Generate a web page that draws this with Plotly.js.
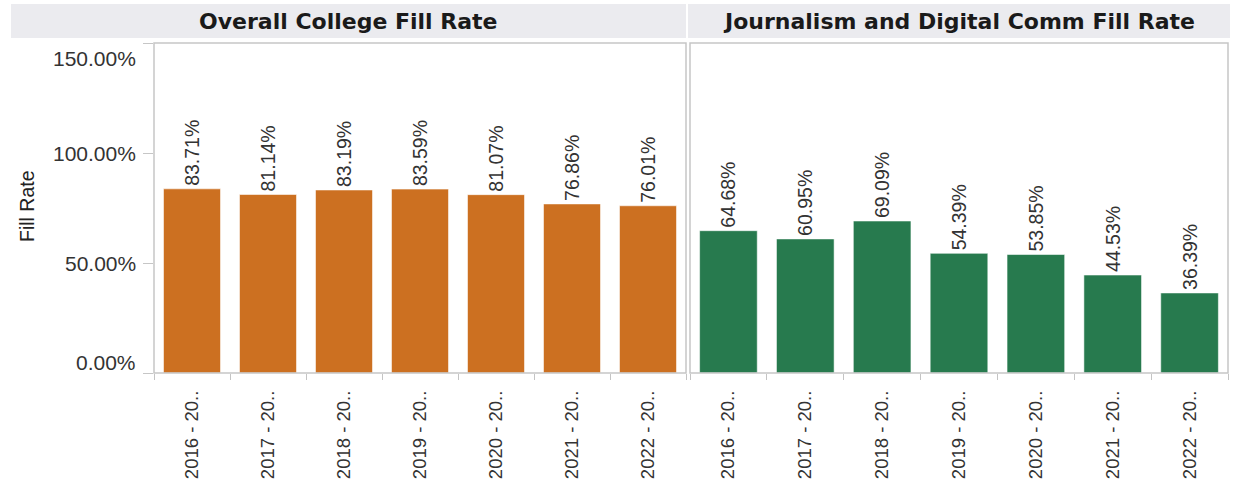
<!DOCTYPE html>
<html>
<head>
<meta charset="utf-8">
<script src="https://cdn.plot.ly/plotly-3.0.1.min.js"></script>
<style>html,body{margin:0;padding:0;background:#fff;}#chart{width:1233px;height:484px;}</style>
</head>
<body>
<div id="chart"></div>
<script>
const categories = ['2016 - 20..', '2017 - 20..', '2018 - 20..', '2019 - 20..', '2020 - 20..', '2021 - 20..', '2022 - 20..'];
const overallRate = [83.71, 81.14, 83.19, 83.59, 81.07, 76.86, 76.01];
const jdcRate = [64.68, 60.95, 69.09, 54.39, 53.85, 44.53, 36.39];
const yTickVals = [0, 50, 100, 150];
const yTickText = ['0.00%', '50.00%', '100.00%', '150.00%'];
const panelTitles = ['Overall College Fill Rate', 'Journalism and Digital Comm Fill Rate'];
const yTitle = 'Fill Rate';

const FONT = 'Arial, "Liberation Sans", sans-serif';
const fmt = v => v.toFixed(2) + '%';

function barTrace(vals, color, xa) {
  return {
    type: 'bar', x: categories, y: vals, xaxis: xa, yaxis: 'y',
    marker: {color: color, line: {color: 'rgba(255,255,255,0.55)', width: 1}},
    text: vals.map(fmt), textposition: 'outside', textangle: -90,
    textfont: {family: FONT, size: 19.5, color: '#333'},
    constraintext: 'none', cliponaxis: false, hoverinfo: 'x+y', showlegend: false
  };
}

const data = [
  barTrace(overallRate, '#CC7021', 'x'),
  barTrace(jdcRate, '#277A4E', 'x2')
];

const pw = 1074, ph = 330; // plot area px
const px = p => (p - 154) / pw;
const py = p => (373 - p) / ph;

const xCommon = {
  type: 'category', showgrid: false, zeroline: false, showline: false,
  ticks: 'outside', tickson: 'boundaries', ticklen: 6, tickcolor: '#c4c4c4', tickwidth: 1,
  tickangle: -90, tickfont: {family: FONT, size: 18.5, color: '#333'},
  ticklabelstandoff: 13, fixedrange: true
};

const gridColor = '#c6c6c6';
const layout = {
  width: 1233, height: 484,
  margin: {l: 154, r: 5, t: 43, b: 111},
  paper_bgcolor: '#fff', plot_bgcolor: '#fff',
  bargap: 0.25,
  font: {family: FONT, color: '#333'},
  xaxis: Object.assign({domain: [0, px(686)], anchor: 'y'}, xCommon),
  xaxis2: Object.assign({domain: [px(690), 1], anchor: 'y'}, xCommon),
  yaxis: {
    range: [0, 150], tickvals: yTickVals, showticklabels: false,
    ticks: 'outside', ticklen: 10, tickcolor: gridColor, tickwidth: 1,
    showgrid: false, zeroline: false, showline: false, fixedrange: true
  },
  shapes: [
    {type: 'rect', xref: 'paper', yref: 'paper', x0: px(11), x1: px(686), y0: py(38), y1: py(4),
     fillcolor: '#EBEBEF', line: {width: 0}, layer: 'below'},
    {type: 'rect', xref: 'paper', yref: 'paper', x0: px(688), x1: px(1230), y0: py(38), y1: py(4),
     fillcolor: '#EBEBEF', line: {width: 0}, layer: 'below'},
    {type: 'rect', xref: 'x domain', yref: 'y domain', x0: 0, x1: 1, y0: 0, y1: 1,
     line: {color: gridColor, width: 1.5}, layer: 'above'},
    {type: 'rect', xref: 'x2 domain', yref: 'y domain', x0: 0, x1: 1, y0: 0, y1: 1,
     line: {color: gridColor, width: 1.5}, layer: 'above'}
  ],
  annotations: []
};

// panel titles
layout.annotations.push(
  {xref: 'paper', yref: 'paper', x: (px(11) + px(686)) / 2, y: py(21), xanchor: 'center', yanchor: 'middle',
   text: '<b>' + panelTitles[0] + '</b>', showarrow: false,
   font: {family: '"DejaVu Sans", sans-serif', size: 22, color: '#1a1a1a'}},
  {xref: 'paper', yref: 'paper', x: (px(688) + px(1230)) / 2, y: py(21), xanchor: 'center', yanchor: 'middle',
   text: '<b>' + panelTitles[1] + '</b>', showarrow: false,
   font: {family: '"DejaVu Sans", sans-serif', size: 22, color: '#1a1a1a'}}
);

// y tick labels (Tableau keeps end labels inside the axis range)
yTickVals.forEach((v, i) => {
  let shift = 0;
  if (i === yTickVals.length - 1) shift = -15;
  else if (i === 0) shift = 11;
  layout.annotations.push({
    xref: 'paper', yref: 'y', x: 0, y: v, xanchor: 'right', yanchor: 'middle',
    xshift: -16, yshift: shift, text: yTickText[i], showarrow: false,
    font: {family: FONT, size: 21, color: '#333'}
  });
});

// y axis title
layout.annotations.push({
  xref: 'paper', yref: 'paper', x: px(27), y: py(206), xanchor: 'center', yanchor: 'middle',
  text: yTitle, textangle: -90, showarrow: false,
  font: {family: FONT, size: 19.5, color: '#222'}
});

Plotly.newPlot('chart', data, layout, {displayModeBar: false, staticPlot: true});
</script>
</body>
</html>
